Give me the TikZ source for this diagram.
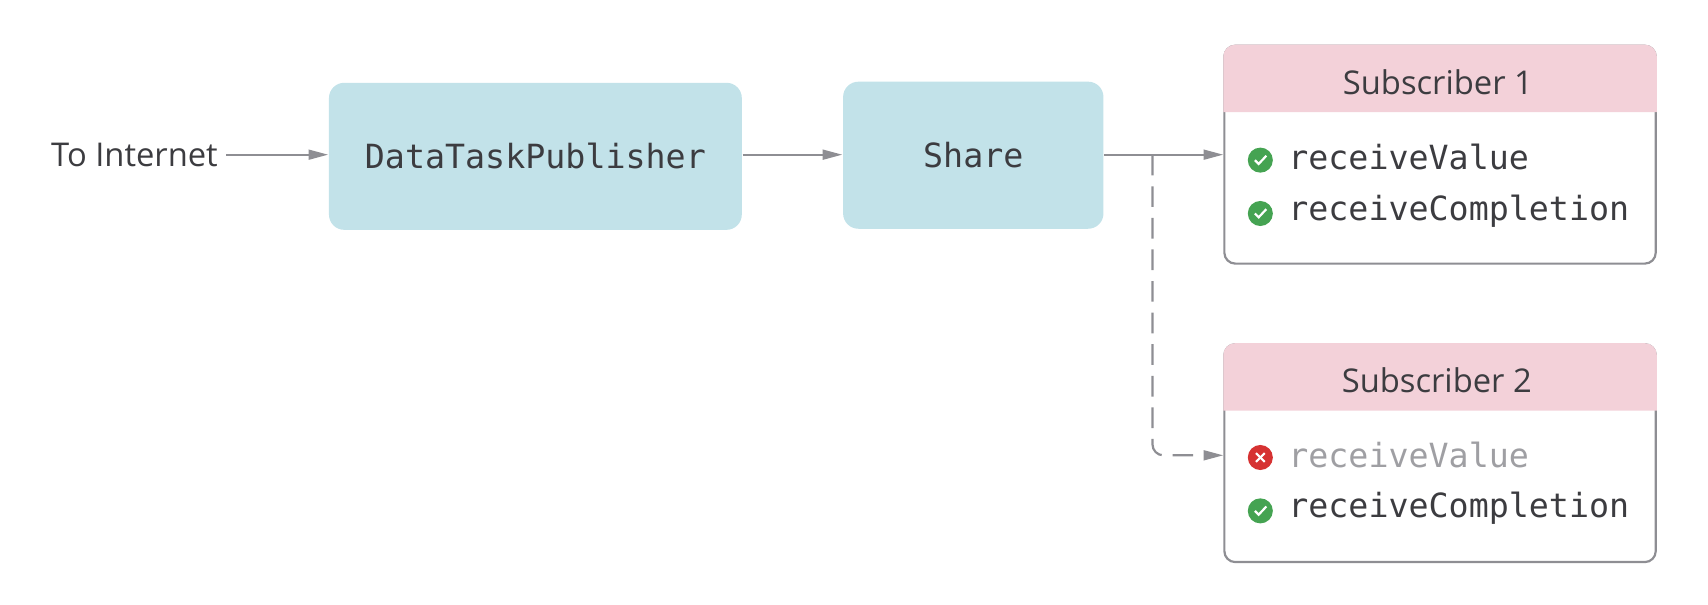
\documentclass[tikz,border=0pt]{standalone}
\usepackage{fontspec}
\setsansfont{Open Sans}
\setmonofont{DejaVu Sans Mono}
\usetikzlibrary{arrows.meta}
\definecolor{boite}{HTML}{C2E2E9}
\definecolor{entete}{HTML}{F3D1D9}
\definecolor{trait}{HTML}{8E8E93}
\definecolor{encre}{HTML}{3C3C40}
\definecolor{vert}{HTML}{45A352}
\definecolor{rouge}{HTML}{D63232}
\begin{document}
\begin{tikzpicture}[
       lien/.style={
         draw=trait,
         line width=0.02cm,
         -{Triangle[length=0.18cm,width=0.09cm]}
       },
       boite/.style={
         rectangle,
         fill=boite,
         rounded corners=0.14cm,
         text=encre,
         font=\fontsize{8.7}{10}\ttfamily
       },
       corps/.style={
         rectangle,
         draw=trait,
         line width=0.02cm,
         rounded corners=0.1cm,
         minimum width=3.96cm,
         minimum height=2cm
       },
       titre/.style={
         text=encre,
         font=\fontsize{8.55}{10}\sffamily
       },
       methode/.style={
         anchor=west,
         inner sep=0pt,
         text=encre,
         font=\fontsize{8.7}{10}\ttfamily
       },
       off/.style={
         methode,
         text=trait!85
       },
       oui/.style={
         circle,
         fill=vert,
         inner sep=0pt,
         minimum size=0.23cm,
         path picture={
           \draw[white,line width=0.02cm]
             ([shift={(-0.05,0)}]path picture bounding box.center) --
             ([shift={(-0.015,-0.035)}]path picture bounding box.center) --
             ([shift={(0.055,0.04)}]path picture bounding box.center);
         }
       },
       non/.style={
         circle,
         fill=rouge,
         inner sep=0pt,
         minimum size=0.23cm,
         path picture={
           \draw[white,line width=0.02cm]
             ([shift={(-0.04,-0.04)}]path picture bounding box.center) --
             ([shift={(0.04,0.04)}]path picture bounding box.center);
           \draw[white,line width=0.02cm]
             ([shift={(-0.04,0.04)}]path picture bounding box.center) --
             ([shift={(0.04,-0.04)}]path picture bounding box.center);
         }
       }
     ]

       \useasboundingbox (0,0) rectangle (15.68,-5.545);

       \node (net) at (1.235,-1.42) [titre,inner sep=0.07cm]{To Internet};
       \node (pub) at (4.915,-1.435) [boite,minimum width=3.79cm,minimum height=1.35cm]{DataTaskPublisher};
       \node (share) at (8.935,-1.425) [boite,minimum width=2.39cm,minimum height=1.35cm]{Share};

       % subscribers
       \node (sub1) at (13.22,-1.42) [corps]{};
       \fill[entete] (11.23,-1.03) [rounded corners=0.11cm] -- (11.23,-0.41) -- (15.21,-0.41) [sharp corners] -- (15.21,-1.03) -- cycle;
       \node (t1) at (13.2,-0.755) [titre]{Subscriber 1};
       \node (c1) at (11.57,-1.47) [oui]{};
       \node (m1) at (11.82,-1.44) [methode]{receiveValue};
       \node (c2) at (11.57,-1.96) [oui]{};
       \node (m2) at (11.82,-1.935) [methode]{receiveCompletion};

       \node (sub2) at (13.22,-4.16) [corps]{};
       \fill[entete] (11.23,-3.77) [rounded corners=0.11cm] -- (11.23,-3.15) -- (15.21,-3.15) [sharp corners] -- (15.21,-3.77) -- cycle;
       \node (t2) at (13.19,-3.49) [titre]{Subscriber 2};
       \node (c3) at (11.57,-4.2) [non]{};
       \node (m3) at (11.82,-4.175) [off]{receiveValue};
       \node (c4) at (11.57,-4.69) [oui]{};
       \node (m4) at (11.82,-4.67) [methode]{receiveCompletion};

       \coordinate (fork) at (10.58,-1.42);
       \coordinate (in1) at (11.23,-1.42);
       \coordinate (in2) at (11.23,-4.18);

       \draw[lien] (net) -- (pub.west |- net);
       \draw[lien] (pub.east |- net) -- (share.west |- net);
       \draw[lien] (share.east |- net) -- (in1);
       \draw[lien,rounded corners=0.1cm,dash pattern=on 0.19cm off 0.1cm] (fork) |- (in2);

\end{tikzpicture}
\end{document}
